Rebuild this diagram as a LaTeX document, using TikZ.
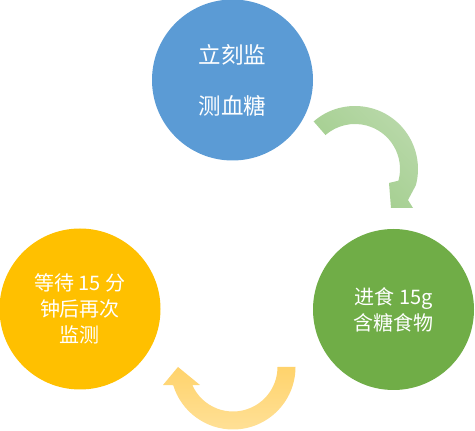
\documentclass[tikz,border=0pt]{standalone}
\usepackage{fontspec}
\newfontfamily\cjk{Noto Sans CJK SC}
\definecolor{cblue}{HTML}{5B9BD5}
\definecolor{cgreen}{HTML}{70AD47}
\definecolor{cgold}{HTML}{FFC000}
\definecolor{agreenA}{HTML}{9ECC88}
\definecolor{agreenB}{HTML}{BAD9AB}
\definecolor{agoldA}{HTML}{FFD36C}
\definecolor{agoldB}{HTML}{FFE096}
\begin{document}
\begin{tikzpicture}[x=1pt,y=1pt,
  stage/.style={circle, minimum size=161pt, inner sep=0pt, text=white, align=center},
  bigtext/.style={font=\cjk\fontsize{22.5}{51}\selectfont},
  smalltext/.style={font=\cjk\fontsize{20}{26}\selectfont},
  greenarrow/.style={top color=agreenB, bottom color=agreenA, shading angle=-45},
  goldarrow/.style={top color=agoldA, bottom color=agoldB}]
\useasboundingbox (0,0) rectangle (475,431);
\node[stage, fill=cblue, bigtext] (check) at (232.5,351) {立刻监\\测血糖};
\node[stage, fill=cgreen, smalltext] (eat) at (393.5,121.5) {进食 15g\\含糖食物};
\node[stage, fill=cgold, smalltext] (wait) at (80,122) {等待 15 分\\钟后再次\\监测};
\coordinate (gc) at (355,262);
\coordinate (yc) at (233,64);
\shade[greenarrow] [shift={(gc)}]
  (131:63) arc[start angle=131, end angle=-15, radius=63]
  -- (53,-31) -- (58,-39) -- (36,-39) -- (34,-14)
  -- (-15:45) arc[start angle=-15, end angle=131, radius=45] -- cycle;
\shade[goldarrow] [shift={(yc)}]
  (0:62.5) arc[start angle=0, end angle=-163, radius=62.5]
  -- (-70,-18) -- (-55,0) -- (-33,-18)
  -- (-156:44.5) arc[start angle=-156, end angle=0, radius=44.5] -- cycle;
\end{tikzpicture}
\end{document}
